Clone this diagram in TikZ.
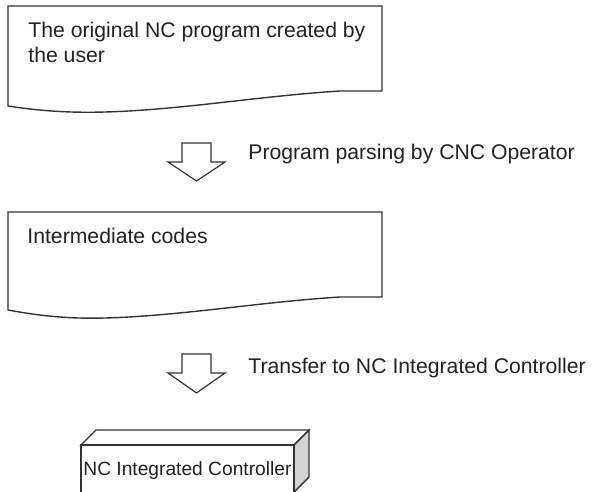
\documentclass[tikz,border=0pt]{standalone}
\usepackage{fontspec}
\setmainfont{Liberation Sans}
\usetikzlibrary{positioning}
\definecolor{ink}{HTML}{333333}
\definecolor{txt}{HTML}{222222}
\definecolor{side}{HTML}{D3D3D3}

\begin{document}
\begin{tikzpicture}[x=0.5pt, y=-0.5pt,
    doc/.style={draw=ink, line width=0.7pt, fill=white, line join=miter},
    blockarrow/.style={draw=ink, line width=0.6pt, fill=white},
    lbl/.style={anchor=base west, inner sep=0pt, text=txt, font=\fontsize{10.6}{12.5}\selectfont}]
  \useasboundingbox (0,0) rectangle (592,491);

  % source program
  \draw[doc] (8,6) -- (382,6) -- (382,91) -- (340,91)
    .. controls (260,96) and (180,110) .. (105,112)
    .. controls (70,113) and (40,111) .. (8,106) -- cycle;
  \node[lbl] (src) at (28,38) {The original NC program created by};
  \node[lbl] (srcb) at (28,63) {the user};

  % parsing step
  \draw[blockarrow] (182,143) -- (211,143) -- (211,162) -- (225,162) -- (196.5,181)
    -- (168,162) -- (182,162) -- cycle;
  \node[lbl] (parse) at (248,160) {Program parsing by CNC Operator};

  % intermediate codes
  \draw[doc] (8,212) -- (382,212) -- (382,297) -- (340,297)
    .. controls (260,302) and (180,316) .. (105,318)
    .. controls (70,319) and (40,316) .. (8,310) -- cycle;
  \node[lbl] (inter) at (27,243) {Intermediate codes};

  % transfer step
  \draw[blockarrow] (182,354) -- (211,354) -- (211,373) -- (225,373) -- (196.5,393)
    -- (168,373) -- (182,373) -- cycle;
  \node[lbl] (transfer) at (248,373) {Transfer to NC Integrated Controller};

  % controller block
  \draw[doc] (81,445) -- (96,430) -- (309,430) -- (294,445) -- cycle;
  \draw[doc, fill=side] (294,445) -- (309,430) -- (309,477) -- (294,492) -- cycle;
  \draw[doc] (81,495) -- (81,445) -- (294,445) -- (294,495);
  \node[lbl, font=\fontsize{9.6}{11}\selectfont] (nic) at (83,475) {NC Integrated Controller};
\end{tikzpicture}
\end{document}
